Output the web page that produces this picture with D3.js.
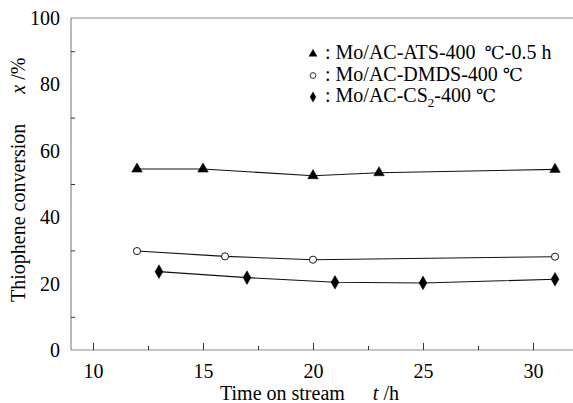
<!DOCTYPE html>
<html>
<head>
<meta charset="utf-8">
<script src="https://cdn.jsdelivr.net/npm/d3@7/dist/d3.min.js"></script>
<style>
  html, body { margin: 0; padding: 0; background: #fff; }
  svg { display: block; }
  svg text { font-family: "Liberation Serif", "Times New Roman", Times, "DejaVu Serif", serif; fill: #000; }
</style>
</head>
<body>
<svg id="chart" width="573" height="403"></svg>
<script>
// Time on stream (h) and thiophene conversion (%) for each sulfided catalyst
const timeATS = [12, 15, 20, 23, 31];
const convATS = [54.5, 54.5, 52.5, 53.4, 54.4];
const timeDMDS = [12, 16, 20, 31];
const convDMDS = [29.8, 28.2, 27.2, 28.1];
const timeCS2 = [13, 17, 21, 25, 31];
const convCS2 = [23.6, 21.8, 20.4, 20.2, 21.3];

const xMajorTicks = [10, 15, 20, 25, 30];
const xMinorTicks = [12.5, 17.5, 22.5, 27.5];
const yLabelTicks = [0, 20, 40, 60, 80, 100];
const yMarkTicks = [10, 30, 50, 70, 90];

const serif = '"Liberation Serif", "Times New Roman", Times, "DejaVu Serif", serif';
const degFont = '"Liberation Serif", "DejaVu Serif", "DejaVu Sans", serif';

const svg = d3.select("#chart");
const W = 573;
const axisColor = "#8a8a8a";

const x = d3.scaleLinear().domain([10, 30]).range([93, 533]);
const y = d3.scaleLinear().domain([0, 100]).range([350, 18]);
const xLeft = x(9);

// frame: left, top and bottom lines
svg.append("line").attr("x1", xLeft).attr("x2", xLeft).attr("y1", y(100)).attr("y2", y(0))
  .attr("stroke", axisColor).attr("stroke-width", 1.2);
svg.append("line").attr("x1", xLeft).attr("x2", W).attr("y1", y(100)).attr("y2", y(100))
  .attr("stroke", axisColor).attr("stroke-width", 1.2);
svg.append("line").attr("x1", xLeft).attr("x2", W).attr("y1", y(0)).attr("y2", y(0))
  .attr("stroke", axisColor).attr("stroke-width", 1.2);

// x axis: inward ticks, labels below
const xAxisMajor = d3.axisBottom(x).tickValues(xMajorTicks).tickSize(-7).tickPadding(14).tickFormat(d3.format("d"));
const gx = svg.append("g").attr("transform", `translate(0,${y(0)})`).call(xAxisMajor)
  .attr("font-family", serif);
gx.select(".domain").remove();
gx.selectAll(".tick line").attr("stroke", "#333").attr("stroke-width", 1);
gx.selectAll(".tick text").attr("font-size", 20).attr("dy", "0.71em").attr("font-family", serif);

const xAxisMinor = d3.axisBottom(x).tickValues(xMinorTicks).tickSize(-4).tickFormat("");
const gx2 = svg.append("g").attr("transform", `translate(0,${y(0)})`).call(xAxisMinor);
gx2.select(".domain").remove();
gx2.selectAll(".tick line").attr("stroke", "#333").attr("stroke-width", 1);

// y axis: labels at even tens, short inward marks at odd tens
const yAxisLabels = d3.axisLeft(y).tickValues(yLabelTicks).tickSize(0).tickPadding(11);
const gy = svg.append("g").attr("transform", `translate(${xLeft},0)`).call(yAxisLabels)
  .attr("font-family", serif);
gy.select(".domain").remove();
gy.selectAll(".tick line").remove();
gy.selectAll(".tick text").attr("font-size", 20).attr("font-family", serif);

const yAxisMarks = d3.axisLeft(y).tickValues(yMarkTicks).tickSize(-4).tickFormat("");
const gy2 = svg.append("g").attr("transform", `translate(${xLeft},0)`).call(yAxisMarks);
gy2.select(".domain").remove();
gy2.selectAll(".tick line").attr("stroke", "#333").attr("stroke-width", 1);

// series lines and markers
const series = [
  { t: timeATS, v: convATS, symbol: d3.symbolTriangle, size: 48, fill: "#000" },
  { t: timeDMDS, v: convDMDS, symbol: d3.symbolCircle, size: 40, fill: "#fff" },
  { t: timeCS2, v: convCS2, symbol: d3.symbolDiamond, size: 54, fill: "#000" }
];
const line = d3.line().x(d => x(d[0])).y(d => y(d[1]));

series.forEach(s => {
  const pts = s.t.map((t, i) => [t, s.v[i]]);
  svg.append("path").attr("d", line(pts)).attr("fill", "none")
    .attr("stroke", "#111").attr("stroke-width", 1.1);
  svg.selectAll(null).data(pts).enter().append("path")
    .attr("transform", d => `translate(${x(d[0])},${y(d[1])})`)
    .attr("d", d3.symbol().type(s.symbol).size(s.size))
    .attr("fill", s.fill).attr("stroke", "#000").attr("stroke-width", s.fill === "#fff" ? 0.9 : 0.5);
});

// legend
const legendItems = [
  { symbol: d3.symbolTriangle, size: 28, fill: "#000", parts: [[": Mo/AC-ATS-400 ", null], ["℃", "c-wide"], ["-0.5 h", null]] },
  { symbol: d3.symbolCircle, size: 26, fill: "#fff", parts: [[": Mo/AC-DMDS-400 ", null], ["℃", "c"]] },
  { symbol: d3.symbolDiamond, size: 30, fill: "#000", parts: [[": Mo/AC-CS", null], ["2", "sub"], ["-400 ", "after"], ["℃", "c"]] }
];
const legendRowY = [59, 80.5, 102];
legendItems.forEach((item, i) => {
  const cy = legendRowY[i];
  svg.append("path").attr("transform", `translate(313,${cy - 5})`)
    .attr("d", d3.symbol().type(item.symbol).size(item.size))
    .attr("fill", item.fill).attr("stroke", "#000").attr("stroke-width", item.fill === "#fff" ? 0.8 : 0.4);
  const txt = svg.append("text").attr("x", 325).attr("y", cy).attr("font-size", 20).attr("font-family", serif);
  item.parts.forEach(p => {
    const ts = txt.append("tspan").text(p[0]);
    if (p[1] === "sub") ts.attr("font-size", 13).attr("dy", 5);
    if (p[1] === "after") ts.attr("dy", -5);
    if (p[1] === "c" || p[1] === "c-wide") ts.attr("font-family", degFont).attr("font-size", 18).attr("font-weight", 300);
    if (p[1] === "c-wide") ts.attr("dx", 4);
  });
});

// axis titles
const yt = svg.append("text").attr("transform", "translate(25,302) rotate(-90)")
  .attr("font-size", 20).attr("font-family", serif);
yt.append("tspan").text("Thiophene conversion");
yt.append("tspan").attr("dx", 30).attr("font-style", "italic").text("x");
yt.append("tspan").text(" /%");

const xt = svg.append("text").attr("x", 220).attr("y", 400)
  .attr("font-size", 20).attr("font-family", serif);
xt.append("tspan").text("Time on stream");
xt.append("tspan").attr("dx", 28).attr("font-style", "italic").text("t");
xt.append("tspan").text(" /h");
</script>
</body>
</html>
